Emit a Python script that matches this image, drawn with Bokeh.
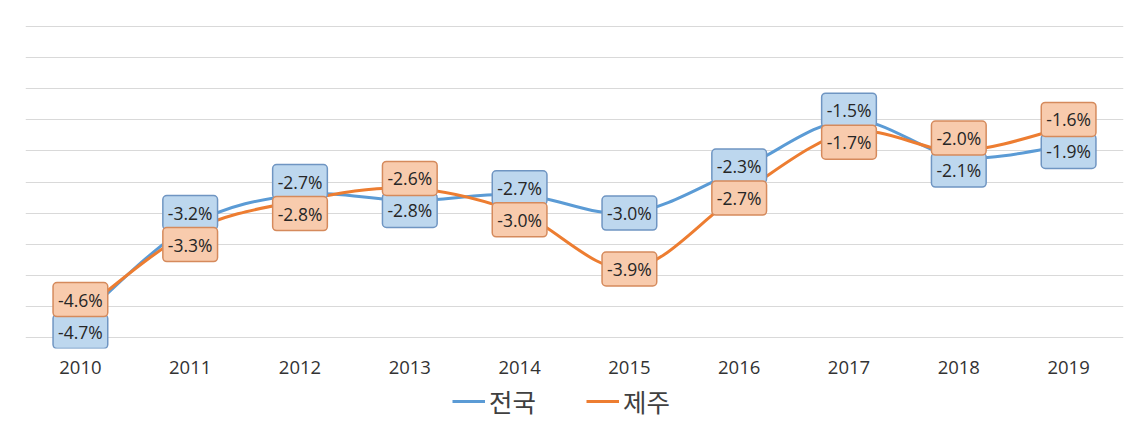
import numpy as np
from bokeh.plotting import figure
from bokeh.layouts import column
from bokeh.models import (Range1d, FixedTicker, Legend, LegendItem, ColumnDataSource)
from bokeh.core.properties import value
from bokeh.embed import file_html
from bokeh.resources import INLINE

# ---- data ----
years = ["2010", "2011", "2012", "2013", "2014", "2015", "2016", "2017", "2018", "2019"]
national = [-4.7, -3.2, -2.7, -2.8, -2.7, -3.0, -2.3, -1.5, -2.1, -1.9]   # 전국
jeju = [-4.6, -3.3, -2.8, -2.6, -3.0, -3.9, -2.7, -1.7, -2.0, -1.6]       # 제주
series_names = ["전국", "제주"]

BLUE = "#5B9BD5"
ORANGE = "#ED7D31"
GRID = "#D9D9D9"
TXT = "#333333"

xs = np.arange(len(years), dtype=float)

Y_TOP, Y_GRID_BOTTOM, Y_BOTTOM = 0.02, -5.0, -5.18
W, H = 1140, 380
LEG_H = 422 - H
TOP, LEFT, RIGHT = 25, 25, 17
px_per_unit = 311 / 5.0
frame_h = int(round((Y_TOP - Y_BOTTOM) * px_per_unit))
BOTTOM = H - TOP - frame_h

p = figure(width=W, height=H,
           x_range=Range1d(-0.5, len(years) - 0.5), y_range=Range1d(Y_BOTTOM, Y_TOP),
           output_backend="svg", toolbar_location=None,
           min_border_left=LEFT, min_border_right=RIGHT, min_border_top=TOP,
           min_border_bottom=BOTTOM)
p.title = None
p.outline_line_color = None
p.background_fill_color = "white"
p.border_fill_color = "white"

p.yaxis.visible = False
p.ygrid.ticker = FixedTicker(ticks=list(np.arange(Y_GRID_BOTTOM, 0.01, 0.5)))
p.ygrid.grid_line_color = GRID
p.ygrid.grid_line_width = 1
p.xgrid.grid_line_color = None

p.xaxis.ticker = FixedTicker(ticks=list(xs))
p.xaxis.major_label_overrides = {i: y for i, y in enumerate(years)}
p.xaxis.axis_line_color = None
p.xaxis.major_tick_line_color = None
p.xaxis.minor_tick_line_color = None
p.xaxis.major_label_standoff = 6
p.xaxis.major_label_text_font = "Open Sans"
p.xaxis.major_label_text_font_size = "18.5px"
p.xaxis.major_label_text_color = TXT


def bezier_source(x, y):
    x = np.asarray(x, float)
    y = np.asarray(y, float)
    n = len(x)
    xp = np.concatenate([[x[0]], x, [x[-1]]])
    yp = np.concatenate([[y[0]], y, [y[-1]]])
    x0, y0, x1, y1, cx0, cy0, cx1, cy1 = ([] for _ in range(8))
    for i in range(n - 1):
        j = i + 1
        x0.append(xp[j]); y0.append(yp[j])
        x1.append(xp[j + 1]); y1.append(yp[j + 1])
        cx0.append(xp[j] + (xp[j + 1] - xp[j - 1]) / 6)
        cy0.append(yp[j] + (yp[j + 1] - yp[j - 1]) / 6)
        cx1.append(xp[j + 1] - (xp[j + 2] - xp[j]) / 6)
        cy1.append(yp[j + 1] - (yp[j + 2] - yp[j]) / 6)
    return ColumnDataSource(dict(x0=x0, y0=y0, x1=x1, y1=y1,
                                 cx0=cx0, cy0=cy0, cx1=cx1, cy1=cy1))


p.bezier(x0="x0", y0="y0", x1="x1", y1="y1", cx0="cx0", cy0="cy0",
         cx1="cx1", cy1="cy1", source=bezier_source(xs, national),
         line_color=BLUE, line_width=3)
p.bezier(x0="x0", y0="y0", x1="x1", y1="y1", cx0="cx0", cy0="cy0",
         cx1="cx1", cy1="cy1", source=bezier_source(xs, jeju),
         line_color=ORANGE, line_width=3)

# label placement: separate overlapping labels vertically (screen px)
BOX_GAP = 32
nat = np.array(national)
jj = np.array(jeju)
nat_off = np.zeros(len(years))
jj_off = np.zeros(len(years))
nat_y = nat.copy()
jj_y = jj.copy()
for i in range(len(years)):
    d = (nat[i] - jj[i]) * px_per_unit
    if abs(d) < BOX_GAP + 2:
        mid = (nat[i] + jj[i]) / 2
        nat_y[i] = mid
        jj_y[i] = mid
        s = 1 if nat[i] >= jj[i] else -1
        nat_off[i] = -s * BOX_GAP / 2
        jj_off[i] = s * BOX_GAP / 2

for yv, yy, off, fill, border in [(national, nat_y, nat_off, "#BDD7EE", "#6F95C2"),
                                  (jeju, jj_y, jj_off, "#F8CBAD", "#D58A5C")]:
    src = ColumnDataSource(dict(x=xs, y=yy, off=off,
                                t=[f"{v:.1f}%" for v in yv]))
    p.text(x="x", y="y", text="t", y_offset="off", source=src,
           text_align="center", text_baseline="middle",
           text_font=value("Open Sans"), text_font_size="17.5px", text_color="#262626",
           background_fill_color=fill, border_line_color=border, border_line_width=1.5,
           padding=5, border_radius=4)

# ---- legend strip below the chart ----
pl = figure(width=W, height=LEG_H, x_range=Range1d(0, 1), y_range=Range1d(0, 1),
            output_backend="svg", toolbar_location=None,
            min_border_left=0, min_border_right=0, min_border_top=0, min_border_bottom=0)
pl.title = None
pl.axis.visible = False
pl.grid.visible = False
pl.outline_line_color = None
pl.border_fill_color = "white"
# off-screen stand-ins so that the legend can draw its line swatches
l_nat = pl.line(x=[-5, -4], y=[-5, -4], line_color=BLUE, line_width=3)
l_jeju = pl.line(x=[-5, -4], y=[-5, -4], line_color=ORANGE, line_width=3)
legend = Legend(items=[LegendItem(label=series_names[0], renderers=[l_nat]),
                       LegendItem(label=series_names[1], renderers=[l_jeju])],
                orientation="horizontal", location=(427, 3),
                label_text_font="Noto Sans CJK KR", label_text_font_size="25.5px",
                label_text_color="#404040", glyph_width=33, glyph_height=20,
                label_standoff=4, spacing=50, padding=0, margin=0,
                border_line_color=None, background_fill_alpha=0)
pl.add_layout(legend, "center")

layout = column(p, pl, spacing=0)
open("out.html", "w").write(file_html(layout, INLINE))
